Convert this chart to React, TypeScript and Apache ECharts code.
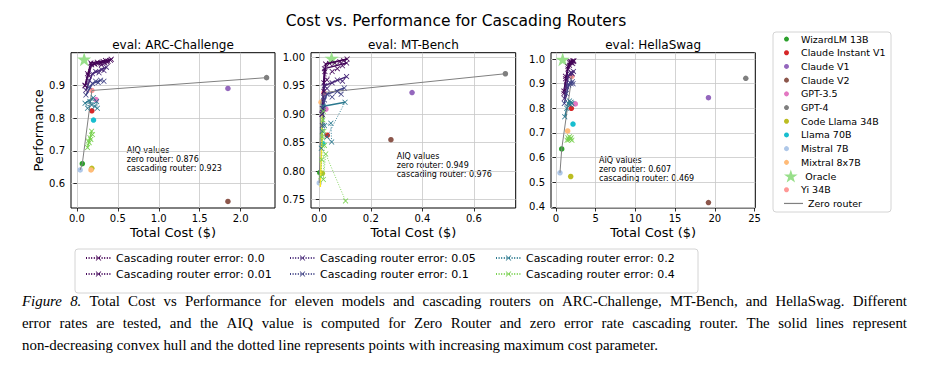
import React, { useEffect, useRef } from 'react';
import * as echarts from 'echarts';

const FONT = "'DejaVu Sans', sans-serif";
const SERIF_NAME = 'Liberation Serif';
const SERIF = "'Liberation Serif', 'Times New Roman', serif";

const MODEL_NAMES = [
  'WizardLM 13B', 'Claude Instant V1', 'Claude V1', 'Claude V2', 'GPT-3.5', 'GPT-4',
  'Code Llama 34B', 'Llama 70B', 'Mistral 7B', 'Mixtral 8x7B', 'Oracle', 'Yi 34B',
];
const MODEL_COLORS = [
  '#2ca02c', '#d62728', '#9467bd', '#8c564b', '#e377c2', '#7f7f7f',
  '#bcbd22', '#17becf', '#aec7e8', '#ffbb78', '#98df8a', '#ff9896',
];

// [total cost, performance] per model, same order as MODEL_NAMES
const ARC_MODELS = [
  [0.066, 0.661], [0.183, 0.822], [1.845, 0.890], [1.845, 0.546], [0.235, 0.856], [2.317, 0.923],
  [0.182, 0.647], [0.203, 0.794], [0.040, 0.642], [0.172, 0.642], [0.089, 0.979], [0.183, 0.884],
];
const MT_MODELS = [
  [0.002, 0.797], [0.031, 0.863], [0.360, 0.938], [0.278, 0.855], [0.026, 0.909], [0.722, 0.971],
  [0.012, 0.796], [0.014, 0.848], [0.000, 0.779], [0.007, 0.921], [0.048, 0.998], [0.018, 0.938],
];
const HS_MODELS = [
  [0.72, 0.635], [1.93, 0.800], [19.2, 0.843], [19.2, 0.417], [2.43, 0.818], [23.9, 0.922],
  [1.85, 0.523], [2.14, 0.736], [0.50, 0.538], [1.47, 0.708], [0.84, 0.999], [2.00, 0.930],
];

// Zero router (non-decreasing convex hull of the models)
const ARC_ZERO = [[0.040, 0.642], [0.066, 0.661], [0.183, 0.884], [2.317, 0.923]];
const MT_ZERO = [[0.000, 0.779], [0.007, 0.921], [0.018, 0.938], [0.722, 0.971]];
const HS_ZERO = [[0.50, 0.538], [0.72, 0.635], [2.00, 0.930]];

const ERRORS = ['0.0', '0.01', '0.05', '0.1', '0.2', '0.4'];
const ERROR_COLORS = ['#440154', '#46085c', '#482878', '#414487', '#2a788e', '#7ad151'];

// Cascading router points, in order of increasing maximum cost parameter
const ARC_CASCADE = [
  [[0.10, 0.900], [0.13, 0.935], [0.17, 0.968], [0.21, 0.966], [0.25, 0.970], [0.29, 0.968], [0.32, 0.972], [0.35, 0.975], [0.38, 0.973], [0.42, 0.979]],
  [[0.10, 0.898], [0.14, 0.930], [0.18, 0.962], [0.22, 0.964], [0.26, 0.966], [0.30, 0.962], [0.34, 0.968], [0.37, 0.970], [0.41, 0.976]],
  [[0.11, 0.885], [0.15, 0.915], [0.19, 0.935], [0.23, 0.942], [0.27, 0.938], [0.30, 0.948], [0.33, 0.945], [0.36, 0.955]],
  [[0.11, 0.870], [0.15, 0.895], [0.19, 0.905], [0.23, 0.912], [0.26, 0.908], [0.29, 0.915], [0.33, 0.912]],
  [[0.10, 0.845], [0.13, 0.830], [0.16, 0.850], [0.18, 0.840], [0.20, 0.862], [0.22, 0.835], [0.24, 0.850], [0.25, 0.830]],
  [[0.13, 0.710], [0.14, 0.730], [0.15, 0.725], [0.16, 0.740], [0.17, 0.735], [0.18, 0.760], [0.19, 0.750]],
];
const ARC_HULL = [
  [[0.10, 0.900], [0.17, 0.968], [0.35, 0.975], [0.42, 0.979]],
  [[0.10, 0.898], [0.18, 0.962], [0.41, 0.976]],
  [[0.11, 0.885], [0.19, 0.935], [0.36, 0.955]],
  [[0.11, 0.870], [0.19, 0.905], [0.29, 0.915]],
  [[0.10, 0.845], [0.20, 0.862]],
  [[0.13, 0.710], [0.18, 0.760]],
];

const MT_CASCADE = [
  [[0.010, 0.900], [0.018, 0.940], [0.022, 0.975], [0.025, 0.988], [0.040, 0.989], [0.060, 0.990], [0.080, 0.992], [0.095, 0.994], [0.108, 0.997]],
  [[0.012, 0.910], [0.018, 0.955], [0.020, 0.980], [0.030, 0.960], [0.050, 0.975], [0.070, 0.980], [0.090, 0.985], [0.106, 0.990]],
  [[0.012, 0.900], [0.016, 0.930], [0.020, 0.950], [0.030, 0.945], [0.050, 0.955], [0.070, 0.960], [0.090, 0.958], [0.106, 0.966]],
  [[0.012, 0.880], [0.016, 0.910], [0.020, 0.925], [0.030, 0.935], [0.050, 0.930], [0.070, 0.940], [0.085, 0.935], [0.097, 0.946]],
  [[0.008, 0.840], [0.012, 0.870], [0.016, 0.914], [0.020, 0.880], [0.045, 0.884], [0.048, 0.851], [0.030, 0.860], [0.100, 0.921]],
  [[0.006, 0.790], [0.010, 0.820], [0.012, 0.860], [0.014, 0.890], [0.016, 0.905], [0.018, 0.870], [0.020, 0.845], [0.016, 0.785], [0.025, 0.830], [0.102, 0.7475]],
];
const MT_HULL = [
  [[0.010, 0.900], [0.022, 0.975], [0.025, 0.988], [0.108, 0.997]],
  [[0.012, 0.910], [0.020, 0.980], [0.106, 0.990]],
  [[0.012, 0.900], [0.020, 0.950], [0.106, 0.966]],
  [[0.012, 0.880], [0.020, 0.925], [0.030, 0.935], [0.097, 0.946]],
  [[0.008, 0.840], [0.016, 0.914], [0.100, 0.921]],
  [[0.004, 0.772], [0.006, 0.800], [0.010, 0.850], [0.012, 0.900]],
];

const HS_CASCADE = [
  [[1.00, 0.870], [1.20, 0.930], [1.50, 0.970], [1.70, 0.985], [1.80, 0.990], [1.95, 0.988], [2.10, 0.992], [2.25, 0.993]],
  [[1.00, 0.860], [1.20, 0.920], [1.50, 0.960], [1.70, 0.975], [1.90, 0.985], [2.10, 0.982], [2.20, 0.990]],
  [[1.05, 0.840], [1.30, 0.890], [1.55, 0.930], [1.75, 0.940], [1.90, 0.945], [2.05, 0.940], [2.20, 0.950]],
  [[1.05, 0.820], [1.30, 0.860], [1.60, 0.895], [1.75, 0.905], [1.90, 0.900], [2.05, 0.908], [2.15, 0.900]],
  [[1.10, 0.766], [1.35, 0.800], [1.55, 0.820], [1.70, 0.830], [1.80, 0.815], [1.90, 0.825], [2.00, 0.820]],
  [[1.40, 0.670], [1.50, 0.680], [1.60, 0.672], [1.70, 0.685], [1.80, 0.675], [1.90, 0.680], [2.00, 0.670]],
];
const HS_HULL = [
  [[1.00, 0.870], [1.50, 0.970], [1.80, 0.990], [2.25, 0.993]],
  [[1.00, 0.860], [1.50, 0.960], [1.90, 0.985], [2.20, 0.990]],
  [[1.05, 0.840], [1.55, 0.930], [1.90, 0.945], [2.20, 0.950]],
  [[1.05, 0.820], [1.60, 0.895], [2.05, 0.908]],
  [[1.10, 0.766], [1.55, 0.820], [1.70, 0.830]],
  [[1.40, 0.670], [1.70, 0.685]],
];

const PANEL_TITLES = ['eval: ARC-Challenge', 'eval: MT-Bench', 'eval: HellaSwag'];
const AIQ_ZERO = ['0.876', '0.949', '0.607'];
const AIQ_CASCADE = ['0.923', '0.976', '0.469'];

const X_TICKS = [[0, 0.5, 1.0, 1.5, 2.0], [0, 0.2, 0.4, 0.6], [0, 5, 10, 15, 20, 25]];
const Y_TICKS = [[0.6, 0.7, 0.8, 0.9], [0.75, 0.8, 0.85, 0.9, 0.95, 1.0], [0.4, 0.5, 0.6, 0.7, 0.8, 0.9, 1.0]];
const X_RANGE = [[-0.072, 2.42], [-0.032, 0.762], [-0.63, 25.1]];
const Y_RANGE = [[0.526, 0.999], [0.735, 1.008], [0.395, 1.026]];
const X_DEC = [1, 1, 0];
const Y_DEC = [1, 2, 1];

const CAPTION_ITALIC = 'Figure 8.';
const CAPTION = [
  'Total Cost vs Performance for eleven models and cascading routers on ARC-Challenge, MT-Bench, and HellaSwag. Different',
  'error rates are tested, and the AIQ value is computed for Zero Router and zero error rate cascading router.  The solid lines represent',
  'non-decreasing convex hull and the dotted line represents points with increasing maximum cost parameter.',
];

const X_SYMBOL = 'path://M0,1L1,0L5,4L9,0L10,1L6,5L10,9L9,10L5,6L1,10L0,9L4,5Z';
const STAR = 'path://M50,2L61.2,36.6L97.6,36.6L68.2,58L79.4,92.6L50,71.2L20.6,92.6L31.8,58L2.4,36.6L38.8,36.6Z';

const PANELS = [
  { models: ARC_MODELS, zero: ARC_ZERO, cascade: ARC_CASCADE, hull: ARC_HULL },
  { models: MT_MODELS, zero: MT_ZERO, cascade: MT_CASCADE, hull: MT_HULL },
  { models: HS_MODELS, zero: HS_ZERO, cascade: HS_CASCADE, hull: HS_HULL },
];

const GRID_LEFT = [71, 311, 551];
const GRID_WIDTH = [204, 204.7, 204.3];
const GRID_TOP = 52.7;
const GRID_HEIGHT = 155.3;
const AIQ_POS = [[126.7, 145.5], [396.7, 152], [599, 155.5]];

const CAP_SIZE = 14.9;
const CAP_LEFT = 22;
const CAP_RIGHT = 907;
const CAP_Y = [301, 323, 345];

function captionElements() {
  const canvas = document.createElement('canvas');
  const ctx = canvas.getContext('2d');
  const measure = (t: string, italic: boolean) => {
    if (!ctx) return t.length * CAP_SIZE * 0.45;
    ctx.font = `${italic ? 'italic ' : ''}${CAP_SIZE}px "${SERIF_NAME}"`;
    return ctx.measureText(t).width;
  };
  const els: any[] = [];
  CAPTION.forEach((line, li) => {
    const words: { t: string; it: boolean }[] = [];
    if (li === 0) CAPTION_ITALIC.split(' ').forEach((w) => words.push({ t: w, it: true }));
    line.split(/\s+/).forEach((w) => words.push({ t: w, it: false }));
    const widths = words.map((w) => measure(w.t, w.it));
    const total = widths.reduce((a, b) => a + b, 0);
    const justify = li < CAPTION.length - 1;
    const gap = justify ? (CAP_RIGHT - CAP_LEFT - total) / (words.length - 1) : measure(' ', false);
    let x = CAP_LEFT;
    words.forEach((w, wi) => {
      els.push({
        type: 'text', x, y: CAP_Y[li], silent: true,
        style: {
          text: w.t, fontSize: CAP_SIZE, fontFamily: SERIF, fontStyle: w.it ? 'italic' : 'normal',
          fill: '#000', align: 'left', verticalAlign: 'middle',
        },
      });
      x += widths[wi] + gap;
    });
  });
  return els;
}

function buildOption() {
  const grid = GRID_LEFT.map((l, i) => ({
    left: l, top: GRID_TOP, width: GRID_WIDTH[i], height: GRID_HEIGHT,
    show: true, borderColor: '#000', borderWidth: 1, backgroundColor: 'transparent',
  }));
  const xAxis = X_RANGE.map((r, i) => ({
    type: 'value', gridIndex: i, min: r[0], max: r[1],
    name: 'Total Cost ($)', nameLocation: 'middle', nameGap: 17.5,
    nameTextStyle: { fontSize: 13, fontFamily: FONT, color: '#000' },
    axisLine: { show: false },
    axisTick: { show: true, length: 3.5, lineStyle: { color: '#000', width: 0.8 }, customValues: X_TICKS[i] },
    axisLabel: {
      show: true, margin: 5, fontSize: 10, fontFamily: FONT, color: '#000',
      customValues: X_TICKS[i], formatter: (v: number) => v.toFixed(X_DEC[i]),
    },
    splitLine: { show: true, lineStyle: { color: '#c8c8c8', width: 0.8 } },
  }));
  const yAxis = Y_RANGE.map((r, i) => ({
    type: 'value', gridIndex: i, min: r[0], max: r[1],
    name: i === 0 ? 'Performance' : '', nameLocation: 'middle', nameGap: 25.5,
    nameTextStyle: { fontSize: 13, fontFamily: FONT, color: '#000' },
    axisLine: { show: false },
    axisTick: { show: true, length: 3.5, lineStyle: { color: '#000', width: 0.8 }, customValues: Y_TICKS[i] },
    axisLabel: {
      show: true, margin: 6, fontSize: 10, fontFamily: FONT, color: '#000',
      customValues: Y_TICKS[i], formatter: (v: number) => v.toFixed(Y_DEC[i]),
    },
    splitLine: { show: true, lineStyle: { color: '#c8c8c8', width: 0.8 } },
  }));

  const series: any[] = [];
  PANELS.forEach((p, pi) => {
    p.hull.forEach((pts, ei) => {
      const col = pi === 1 && ei === 5 ? '#fde725' : ERROR_COLORS[ei];
      series.push({
        type: 'line', name: `Hull ${ERRORS[ei]} ${pi}`, xAxisIndex: pi, yAxisIndex: pi,
        data: pts, symbol: 'none', silent: true,
        lineStyle: { color: col, width: 1.5 }, itemStyle: { color: col },
      });
    });
    p.cascade.forEach((pts, ei) => {
      series.push({
        type: 'line', name: `Cascading router error: ${ERRORS[ei]}`, xAxisIndex: pi, yAxisIndex: pi,
        data: pts, symbol: X_SYMBOL, symbolSize: 5.5, silent: true,
        lineStyle: { color: ERROR_COLORS[ei], width: 0.9, type: [1, 1.6] },
        itemStyle: { color: ERROR_COLORS[ei] },
      });
    });
    series.push({
      type: 'line', name: 'Zero router', xAxisIndex: pi, yAxisIndex: pi, data: p.zero,
      symbol: 'none', silent: true,
      lineStyle: { color: '#808080', width: 1 }, itemStyle: { color: '#808080' },
    });
    p.models.forEach((pt, mi) => {
      const isOracle = MODEL_NAMES[mi] === 'Oracle';
      series.push({
        type: 'scatter', name: MODEL_NAMES[mi], xAxisIndex: pi, yAxisIndex: pi, data: [pt],
        symbol: isOracle ? STAR : 'circle', symbolSize: isOracle ? 14 : 5.5, silent: true,
        itemStyle: { color: MODEL_COLORS[mi], opacity: 1 },
      });
    });
  });

  const legText = { fontSize: 9.5, fontFamily: FONT, color: '#000', lineHeight: 13.7 };
  const rightLegBase = {
    orient: 'vertical', left: 784, itemWidth: 19, itemGap: 0, padding: 0,
    selectedMode: false, textStyle: legText,
  };
  const bottomText = { fontSize: 11, fontFamily: FONT, color: '#000', lineHeight: 13 };
  const bottomLegBase = {
    orient: 'vertical', top: 251.5, itemWidth: 25, itemHeight: 7, itemGap: 3, padding: 0,
    selectedMode: false, textStyle: bottomText,
  };
  const legend = [
    { ...rightLegBase, top: 32.2, itemHeight: 5, icon: 'circle', data: MODEL_NAMES.slice(0, 10) },
    { ...rightLegBase, top: 169.2, itemHeight: 13, icon: STAR, data: ['Oracle'] },
    { ...rightLegBase, top: 182.9, itemHeight: 5, icon: 'circle', data: ['Yi 34B'] },
    { ...rightLegBase, top: 196.6, itemHeight: 1.2, icon: 'rect', data: ['Zero router'] },
    { ...bottomLegBase, left: 85, data: [`Cascading router error: ${ERRORS[0]}`, `Cascading router error: ${ERRORS[1]}`] },
    { ...bottomLegBase, left: 289, data: [`Cascading router error: ${ERRORS[2]}`, `Cascading router error: ${ERRORS[3]}`] },
    { ...bottomLegBase, left: 495, data: [`Cascading router error: ${ERRORS[4]}`, `Cascading router error: ${ERRORS[5]}`] },
  ];

  const title: any[] = [
    {
      text: 'Cost vs. Performance for Cascading Routers', left: 456, top: 12, textAlign: 'center', padding: 0,
      textStyle: { fontSize: 15.5, fontWeight: 'normal', fontFamily: FONT, color: '#000', lineHeight: 18 },
    },
  ];
  PANEL_TITLES.forEach((t, i) => {
    title.push({
      text: t, left: GRID_LEFT[i] + GRID_WIDTH[i] / 2, top: 38, textAlign: 'center', padding: 0,
      textStyle: { fontSize: 12, fontWeight: 'normal', fontFamily: FONT, color: '#000', lineHeight: 14 },
    });
  });

  const graphic: any[] = [
    { type: 'rect', z: -1, shape: { x: 773, y: 32, width: 118, height: 180, r: 3 }, style: { fill: '#fff', stroke: '#d4d4d4', lineWidth: 1 } },
    { type: 'rect', z: -1, shape: { x: 75, y: 249, width: 623, height: 44, r: 3 }, style: { fill: '#fff', stroke: '#d4d4d4', lineWidth: 1 } },
  ];
  AIQ_POS.forEach((pos, i) => {
    graphic.push({
      type: 'text', x: pos[0], y: pos[1],
      style: {
        text: `AIQ values\nzero router: ${AIQ_ZERO[i]}\ncascading router: ${AIQ_CASCADE[i]}`,
        fontSize: 8, fontFamily: FONT, lineHeight: 9, fill: '#000', align: 'left', verticalAlign: 'top',
      },
    });
  });
  captionElements().forEach((e) => graphic.push(e));

  return {
    animation: false,
    backgroundColor: '#fff',
    title, grid, xAxis, yAxis, series, legend, graphic,
  };
}

export default function App() {
  const ref = useRef<HTMLDivElement>(null);
  useEffect(() => {
    if (!ref.current) return;
    const chart = echarts.init(ref.current, undefined, { renderer: 'svg' });
    chart.setOption(buildOption() as any);
    return () => chart.dispose();
  }, []);
  return (
    <div
      ref={ref}
      style={{ position: 'absolute', left: 0, top: 0, width: 931, height: 377, background: '#fff' }}
    />
  );
}
